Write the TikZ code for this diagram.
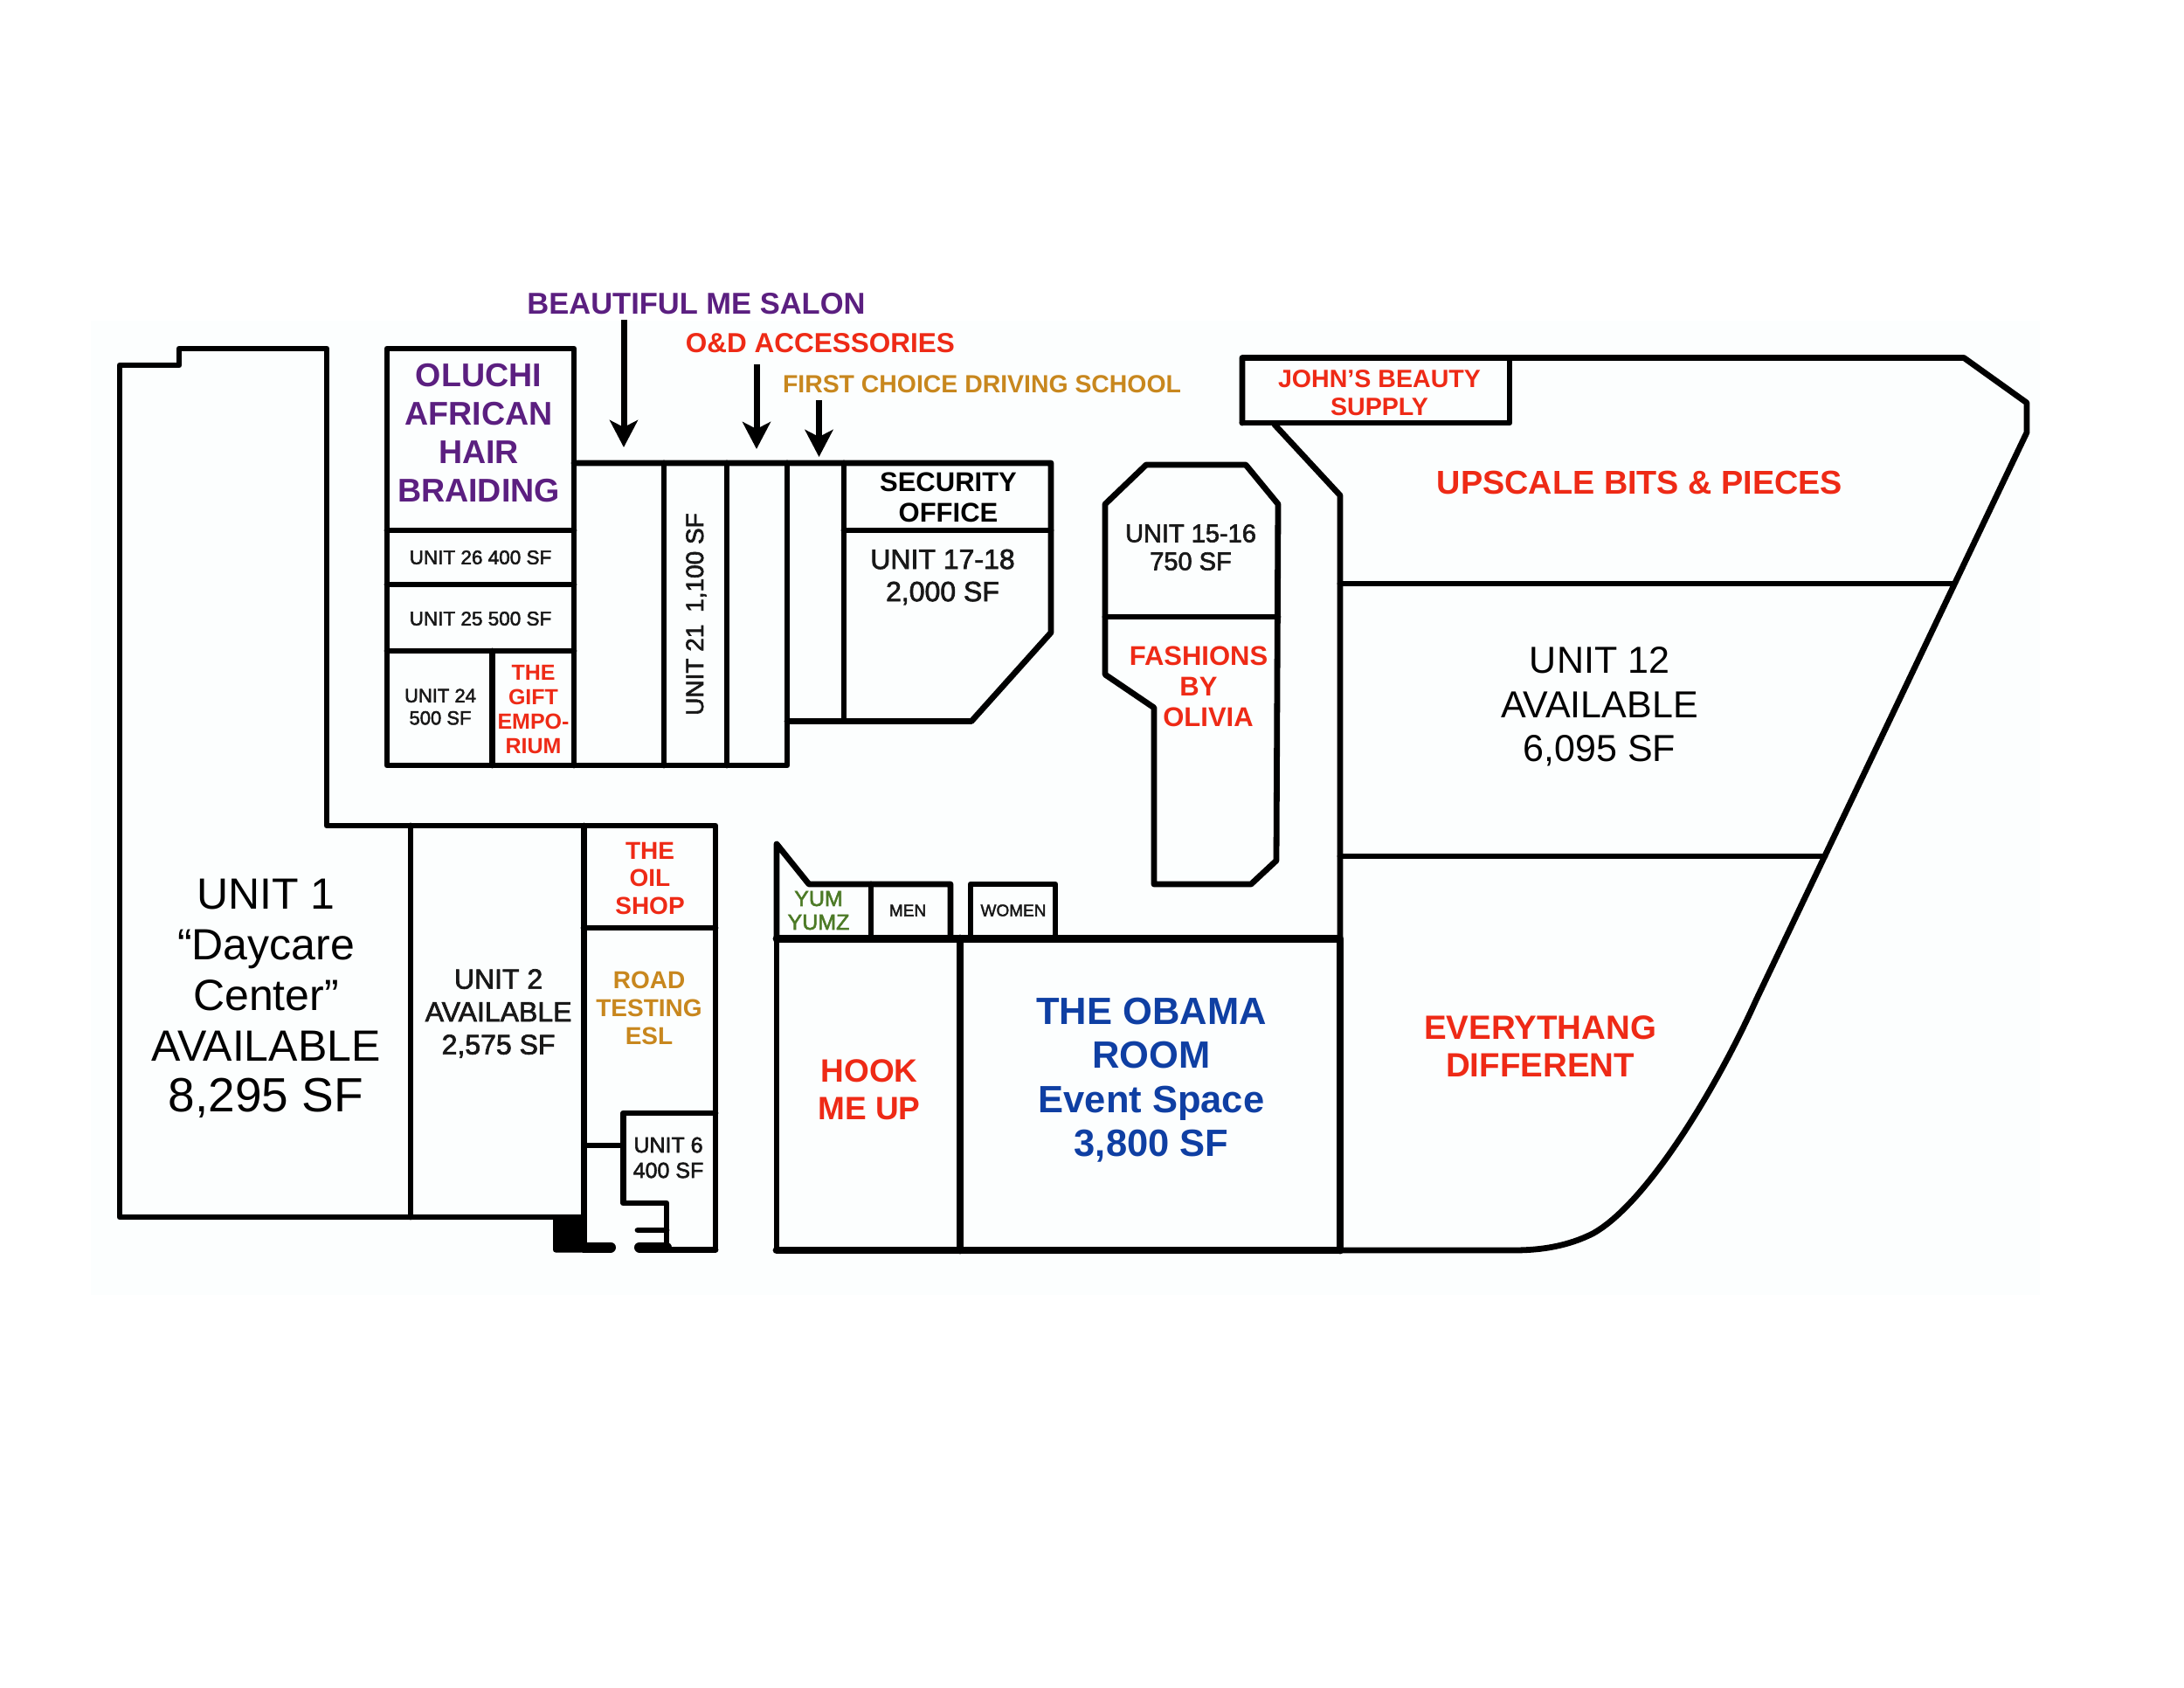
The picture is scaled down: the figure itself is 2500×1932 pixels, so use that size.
\documentclass[tikz,border=0pt]{standalone}
\usepackage{fontspec}
\setmainfont{Liberation Sans}
\newfontfamily\semifont[FakeBold=2.2]{Liberation Sans}
\usetikzlibrary{arrows.meta}
\definecolor{cpurple}{HTML}{5B1F80}
\definecolor{cred}{HTML}{EE2A16}
\definecolor{cgold}{HTML}{C8871E}
\definecolor{cblue}{HTML}{0F3FA3}
\definecolor{cgreen}{HTML}{4C7A26}
\definecolor{cink}{HTML}{181818}
\definecolor{ctint}{HTML}{FCFEFE}
\tikzset{
  wall/.style={line width=6.8pt,line cap=round,line join=round,black},
  heavy/.style={wall,line width=8.8pt},
  stub/.style={wall,line width=12pt},
  label/.style={inner sep=0pt,outer sep=0pt,align=center},
  pointer/.style={line width=7pt,black,-{Stealth[length=31pt,width=32pt,inset=8pt]}},
  fz/.style 2 args={node font=\fontsize{#1}{#2}\selectfont},
  br/.style={label,font=\bfseries,text=cred},
  bp/.style={label,font=\bfseries,text=cpurple},
  bg/.style={label,font=\bfseries,text=cgold},
  bb/.style={label,font=\bfseries,text=cblue},
  bk/.style={label,font=\bfseries,text=black},
  sm/.style={label,font=\semifont,text=cink},
  rg/.style={label,text=black}
}
\begin{document}
\begin{tikzpicture}[x=1pt,y=-1pt]
\useasboundingbox (0,0) rectangle (2500,1932);
\fill[white] (0,0) rectangle (2500,1932);
\fill[ctint] (104,367) rectangle (2335,1482);
% left building
\draw[wall] (819,1430) -- (819,945) -- (374,945) -- (374,399) -- (205,399) -- (205,418) -- (137,418) -- (137,1393) -- (668,1393);
\draw[wall] (470,945) -- (470,1393);
\draw[wall] (668.5,945) -- (668.5,1430);
\draw[wall] (668,1062) -- (819,1062);
\draw[wall] (819,1274) -- (713.5,1274) -- (713.5,1377) -- (763,1377) -- (763,1430);
\draw[wall,line width=5.5pt] (668,1311) -- (713,1311);
\fill[black,rounded corners=3pt] (633,1390) rectangle (668,1433.5);
\draw[stub] (668,1427.5) -- (699,1427.5);
\draw[stub] (732,1427.5) -- (763,1427.5);
\draw[wall] (763,1430.5) -- (819,1430.5);
\draw[wall] (730,1408) -- (763,1408);
% middle block
\draw[wall] (657,607) -- (657,399) -- (443,399) -- (443,876) -- (901,876) -- (901,530);
\draw[wall] (657,530) -- (1203,530) -- (1203,724) -- (1112,825.5) -- (901,825.5);
\draw[wall] (443,607) -- (657,607);
\draw[wall] (443,669) -- (657,669);
\draw[wall] (443,745) -- (657,745);
\draw[wall] (563.5,745) -- (563.5,876);
\draw[wall] (657,607) -- (657,876);
\draw[wall] (760,530) -- (760,876);
\draw[wall] (832,530) -- (832,876);
\draw[wall] (966,530) -- (966,825.5);
\draw[wall] (966,607) -- (1203,607);
% pointers
\coordinate (a1s) at (714,366);   \coordinate (a1e) at (714,512);
\coordinate (a2s) at (866,417);   \coordinate (a2e) at (866,514);
\coordinate (a3s) at (937.5,458); \coordinate (a3e) at (937.5,523);
\draw[pointer] (a1s) -- (a1e);
\draw[pointer] (a2s) -- (a2e);
\draw[pointer] (a3s) -- (a3e);
% island
\draw[wall] (1312,532) -- (1426,532) -- (1463,577) -- (1461,985) -- (1432,1012) -- (1321,1012) -- (1321,810) -- (1265,772) -- (1265,577) -- cycle;
\draw[wall] (1265,706) -- (1463,706);
% right building
\draw[wall] (1422,484) -- (1422,409.5) -- (2248,409.5) -- (2320,461) -- (2320,495) -- (2010,1145)
  .. controls (1965,1245) and (1885,1378) .. (1823,1412) .. controls (1795,1426) and (1765,1431) .. (1733,1431) -- (1534,1431);
\draw[wall] (1728,409.5) -- (1728,484) -- (1422,484);
\draw[wall] (1459,486) -- (1534,567) -- (1534,1074);
\draw[wall] (1534,668) -- (2235,668);
\draw[wall] (1534,980) -- (2089,980);
% lower middle
\draw[wall] (889,1074) -- (889,1431);
\draw[wall] (889,1074) -- (889,966) -- (926,1012) -- (1088,1012) -- (1088,1074);
\draw[wall] (997,1012) -- (997,1074);
\draw[wall] (1111,1074) -- (1111,1012) -- (1208,1012) -- (1208,1074);
\draw[heavy] (889,1074.5) -- (1534,1074.5) -- (1534,1431);
\draw[heavy] (889,1431) -- (1534,1431);
\draw[heavy] (1099,1074) -- (1099,1431);
% labels
\node[bp,fz={34.5}{40}] (salon) at (797,348) {BEAUTIFUL ME SALON};
\node[br,fz={31.5}{37}] (odacc) at (939,393) {O\&D ACCESSORIES};
\node[bg,fz={28.4}{33}] (drive) at (1124,439.5) {FIRST CHOICE DRIVING SCHOOL};
\node[bp,fz={37.6}{44}] (oluchi) at (548,495.5) {OLUCHI\\AFRICAN\\HAIR\\BRAIDING};
\node[sm,fz={22.5}{26}] (u26) at (550,638) {UNIT 26 400 SF};
\node[sm,fz={22.5}{26}] (u25) at (550,708) {UNIT 25 500 SF};
\node[sm,fz={22}{25.5}] (u24) at (504,809) {UNIT 24\\500 SF};
\node[br,fz={25}{28}] (gift) at (610.5,812.5) {THE\\GIFT\\EMPO-\\RIUM};
\node[sm,rotate=90,fz={28}{32}] (u21) at (797,703) {UNIT 21\hspace{6pt} 1,100 SF};
\node[bk,fz={31}{35}] (sec) at (1085.5,569) {SECURITY\\OFFICE};
\node[sm,fz={32}{37}] (u17) at (1079,660.5) {UNIT 17-18\\2,000 SF};
\node[sm,fz={29}{32}] (u15) at (1363,626.5) {UNIT 15-16\\750 SF};
\node[br,fz={31}{35}] (fash) at (1372,785.5) {FASHIONS\\BY\\\hspace*{22pt}OLIVIA};
\node[br,fz={28.6}{32}] (john) at (1579,450) {JOHN’S BEAUTY\\SUPPLY};
\node[br,fz={37.8}{44}] (upscale) at (1877,552) {UPSCALE BITS \& PIECES};
\node[rg,fz={43}{50.5}] (u12) at (1831,809) {UNIT 12\\AVAILABLE\\6,095 SF};
\node[br,fz={38.5}{43}] (every) at (1763,1197.5) {EVERYTHANG\\DIFFERENT};
\node[bb,fz={43.5}{50.5}] (obama) at (1318,1236) {THE OBAMA\\ROOM\\Event Space\\3,800 SF};
\node[br,fz={37}{43}] (hook) at (995,1247.5) {HOOK\\ME UP};
\node[sm,text=cgreen,fz={25}{27}] (yum) at (937,1042) {YUM\\YUMZ};
\node[sm,fz={19}{22}] (men) at (1039,1042) {MEN};
\node[sm,fz={19}{22}] (women) at (1160,1042) {WOMEN};
\node[br,fz={28}{31.5}] (oil) at (744,1005) {THE\\OIL\\SHOP};
\node[bg,fz={28}{32}] (road) at (743,1153.5) {ROAD\\TESTING\\ESL};
\node[sm,fz={25}{29}] (u6) at (765,1325) {UNIT 6\\400 SF};
\node[sm,fz={32}{37.5}] (u2) at (570.6,1160) {UNIT 2\\AVAILABLE\\2,575 SF};
\node[rg,fz={50}{58}] (u1) at (304.5,1143) {UNIT 1\\“Daycare\\Center”\\AVAILABLE\\{\fontsize{55}{58}\selectfont 8,295 SF}};
\end{tikzpicture}
\end{document}
